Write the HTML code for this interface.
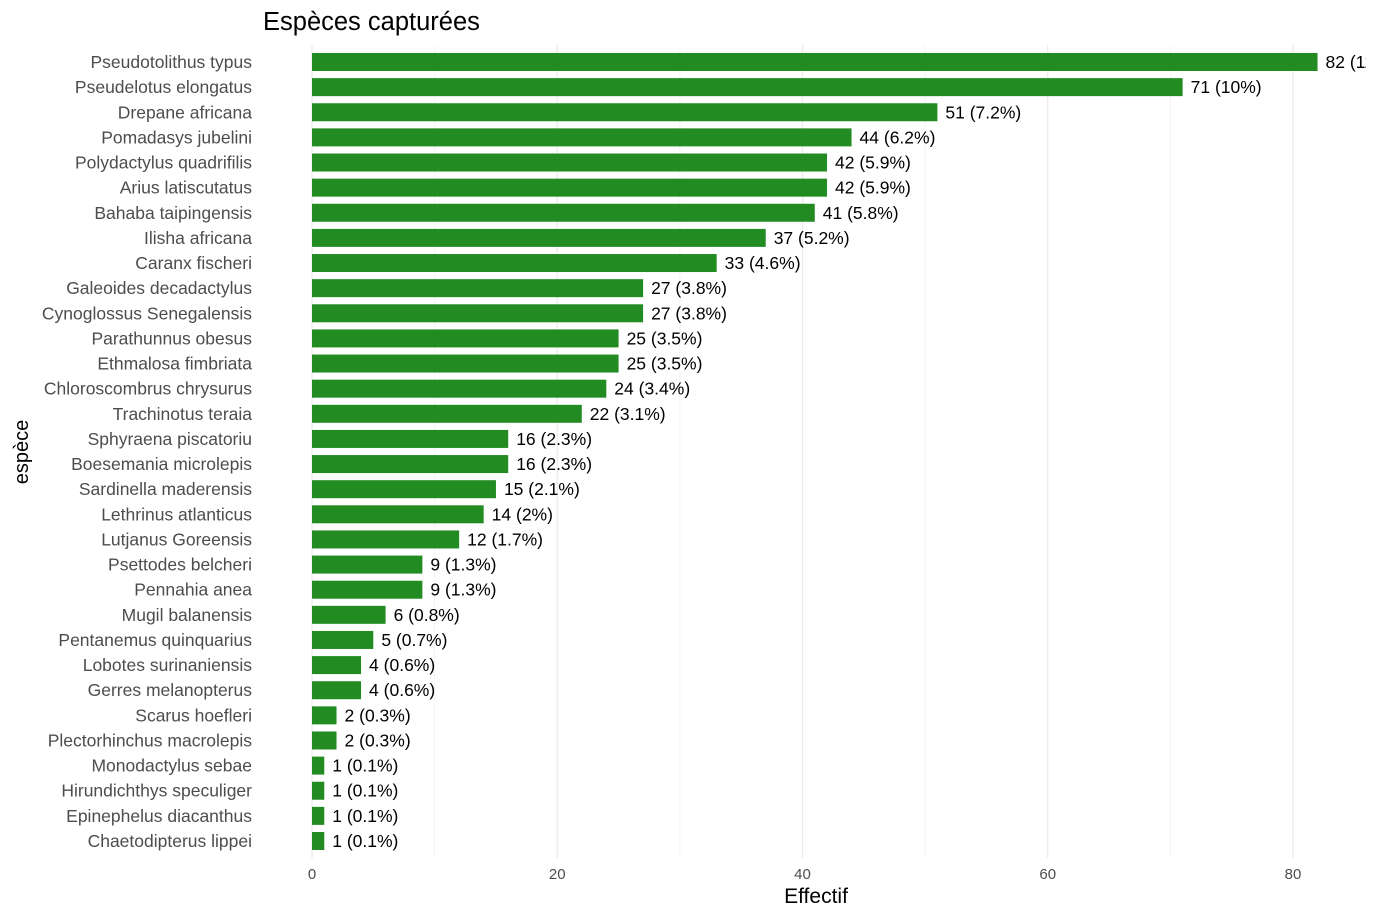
<!DOCTYPE html>
<html><head><meta charset="utf-8"><style>
html,body{margin:0;padding:0;background:#fff;}
svg{display:block;font-family:"Liberation Sans",Arial,sans-serif;}
</style></head><body>
<svg id="chart" width="1380" height="920" xmlns="http://www.w3.org/2000/svg">
<defs><clipPath id="panel"><rect x="0" y="40" width="1366" height="820"/></clipPath></defs>
<text x="263" y="30" font-size="25.5" fill="#000">Espèces capturées</text>
<g id="grid"></g>
<g id="bars" clip-path="url(#panel)"></g>
<g id="ylabels"></g>
<g id="xticks"></g>
<text x="816" y="903" font-size="21" text-anchor="middle" fill="#000">Effectif</text>
<text transform="translate(28,452) rotate(-90)" font-size="20" text-anchor="middle" fill="#000">espèce</text>
</svg>
<script>
const species = ["Pseudotolithus typus","Pseudelotus elongatus","Drepane africana","Pomadasys jubelini","Polydactylus quadrifilis","Arius latiscutatus","Bahaba taipingensis","Ilisha africana","Caranx fischeri","Galeoides decadactylus","Cynoglossus Senegalensis","Parathunnus obesus","Ethmalosa fimbriata","Chloroscombrus chrysurus","Trachinotus teraia","Sphyraena piscatoriu","Boesemania microlepis","Sardinella maderensis","Lethrinus atlanticus","Lutjanus Goreensis","Psettodes belcheri","Pennahia anea","Mugil balanensis","Pentanemus quinquarius","Lobotes surinaniensis","Gerres melanopterus","Scarus hoefleri","Plectorhinchus macrolepis","Monodactylus sebae","Hirundichthys speculiger","Epinephelus diacanthus ","Chaetodipterus lippei"];
const counts = [82,71,51,44,42,42,41,37,33,27,27,25,25,24,22,16,16,15,14,12,9,9,6,5,4,4,2,2,1,1,1,1];
const xTicks = [0,20,40,60,80];
const xMinor = [10,30,50,70];

const NS="http://www.w3.org/2000/svg";
const x = v => 312 + v*(1293-312)/80;
const rowStep = (841-62)/31;
const y = i => 62 + i*rowStep;
const barH = 18;
const total = counts.reduce((a,b)=>a+b,0);
function mk(tag, attrs, parent){const e=document.createElementNS(NS,tag);for(const k in attrs)e.setAttribute(k,attrs[k]);parent.appendChild(e);return e;}
const grid=document.getElementById('grid'), bars=document.getElementById('bars'), yl=document.getElementById('ylabels'), xt=document.getElementById('xticks');
xMinor.forEach(v=>{const l=mk('line',{x1:x(v),x2:x(v),y1:45,y2:858,stroke:'#f2f2f2','stroke-width':1},grid);

});
xTicks.forEach(v=>{const l=mk('line',{x1:x(v),x2:x(v),y1:45,y2:858,stroke:'#ebebeb','stroke-width':1.3},grid);


const t=mk('text',{x:x(v),y:879,'font-size':15,'text-anchor':'middle',fill:'#4d4d4d'},xt);t.textContent=v;

});
function fmt(p){let r=Math.round(p*10)/10;return (r%1===0? r.toFixed(0): r.toFixed(1))+'%';}
species.forEach((s,i)=>{
 const r=mk('rect',{x:x(0),y:y(i)-barH/2,width:x(counts[i])-x(0),height:barH,fill:'#228b22'},bars);
 
 
 const v=mk('text',{x:x(counts[i])+8,y:y(i)+6,'font-size':17.5,fill:'#000'},bars);
 v.textContent=counts[i]+' ('+fmt(counts[i]/total*100)+')';
 
 
 const t=mk('text',{x:252,y:y(i)+6,'font-size':17.5,'text-anchor':'end',fill:'#4d4d4d'},yl);
 t.textContent=s;
 
 
});
</script>
</body></html>
